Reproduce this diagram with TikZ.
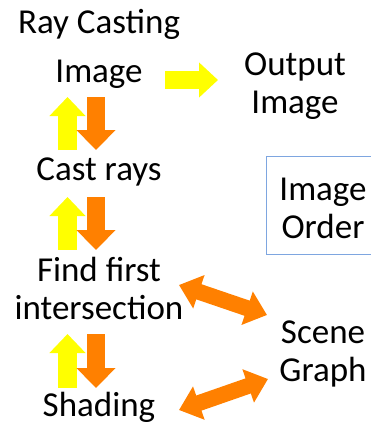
\documentclass[tikz,border=0pt]{standalone}
\usepackage{fontspec}
\setmainfont{Carlito}
\usetikzlibrary{arrows.meta}
\definecolor{rayyellow}{RGB}{255,255,0}
\definecolor{rayorange}{RGB}{255,128,0}
\definecolor{orderblue}{RGB}{126,166,224}

\begin{document}
\begin{tikzpicture}[
    x=1pt, y=-1pt,
    every node/.style={font=\fontsize{35}{38}\selectfont, inner sep=0pt, align=center},
    yarr/.style={draw=rayyellow, line width=19pt, -{Triangle[width=35pt, length=19pt]}},
    oarr/.style={draw=rayorange, line width=18pt, -{Triangle[width=38pt, length=20pt]}},
    dblarr/.style={draw=rayorange, line width=16pt, {Triangle[width=34pt, length=21pt]}-{Triangle[width=34pt, length=21pt]}},
]
    \useasboundingbox (0,0) rectangle (371,423);

    % pipeline on the left
    \node[anchor=base] (title) at (99,33) {Ray Casting};
    \node[anchor=base] (image) at (99,82) {Image};
    \node[anchor=base] (cast) at (99,180) {Cast rays};
    \node (find) at (99,288) {Find first\\intersection};
    \node[anchor=base] (shading) at (99,416) {Shading};

    % right column
    \node (output) at (295,86.5) {Output\\Image};
    \node[draw=orderblue, thick, minimum width=130pt, minimum height=98pt, anchor=north west] (order) at (266,156) {};
    \node (ordertext) at (323,208) {Image\\Order};
    \node (scene) at (323,354) {Scene\\Graph};

    % image -> output
    \draw[yarr, line width=18pt, -{Triangle[width=34pt, length=19pt]}]
        ([xshift=66pt, yshift=2pt]image.base) -- ([xshift=-77pt, yshift=6.5pt]output.center);

    % up / down pairs
    \draw[yarr] ([xshift=-31.5pt, yshift=30pt]cast.base) -- ([xshift=-31.5pt, yshift=-15pt]image.base);
    \draw[oarr] ([xshift=-3pt, yshift=-15pt]image.base) -- ([xshift=-3pt, yshift=30pt]cast.base);
    \draw[yarr] ([xshift=-31.5pt, yshift=38pt]find.center) -- ([xshift=-31.5pt, yshift=-17pt]cast.base);
    \draw[oarr] ([xshift=-3pt, yshift=-17pt]cast.base) -- ([xshift=-3pt, yshift=38pt]find.center);
    \draw[yarr] ([xshift=-31.5pt, yshift=28pt]shading.base) -- ([xshift=-31.5pt, yshift=-46pt]find.center);
    \draw[oarr] ([xshift=-3pt, yshift=-46pt]find.center) -- ([xshift=-3pt, yshift=28pt]shading.base);

    % scene graph links
    \draw[dblarr] ([xshift=80pt, yshift=3pt]find.center) -- ([xshift=-56pt, yshift=39pt]scene.center);
    \draw[dblarr] ([xshift=80pt, yshift=6pt]shading.base) -- ([xshift=-55pt, yshift=-25pt]scene.center);
\end{tikzpicture}
\end{document}
